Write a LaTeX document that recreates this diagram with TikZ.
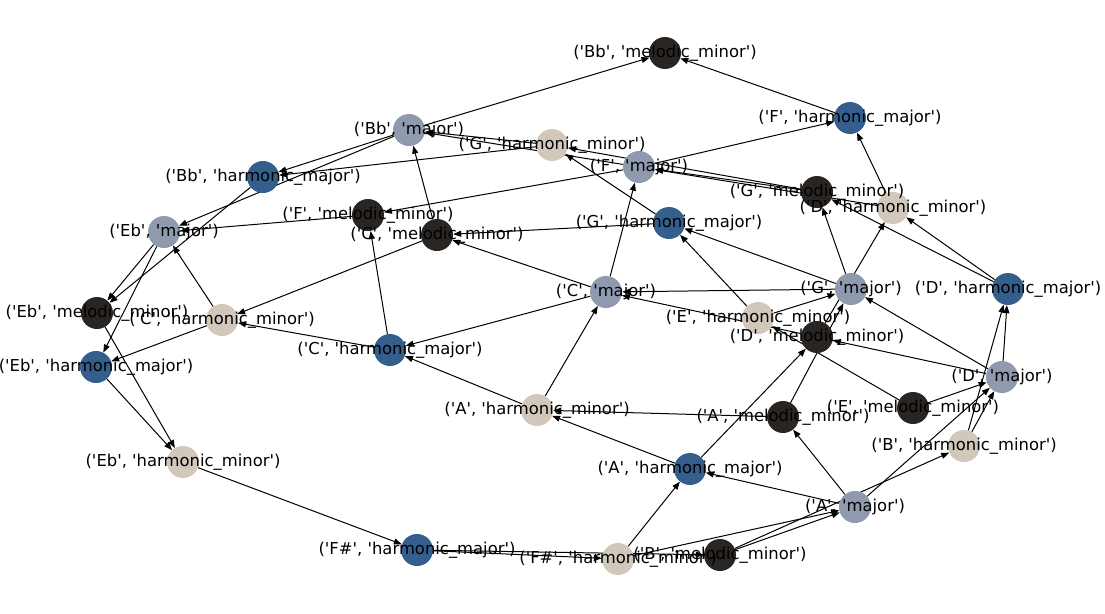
\documentclass[tikz,border=0pt]{standalone}
\usepackage{fontspec}
\newfontfamily\lblfont{DejaVu Sans}[Ligatures=TeXOff]
\usetikzlibrary{arrows.meta}
\definecolor{majcol}{HTML}{8F9AAF}
\definecolor{hmajcol}{HTML}{345E8C}
\definecolor{hmincol}{HTML}{D1C7BA}
\definecolor{melcol}{HTML}{292523}
\pgfdeclarelayer{background}
\pgfsetlayers{background,main}

\begin{document}
\begin{tikzpicture}[x=1pt, y=-1pt,
    maj/.style={circle, fill=majcol, minimum size=32pt, inner sep=0pt},
    hmaj/.style={circle, fill=hmajcol, minimum size=32pt, inner sep=0pt},
    hmin/.style={circle, fill=hmincol, minimum size=32pt, inner sep=0pt},
    mel/.style={circle, fill=melcol, minimum size=32pt, inner sep=0pt},
    lbl/.style={font=\lblfont\fontsize{16.4}{19}\selectfont, inner sep=0pt},
    arr/.style={-{Triangle[length=8pt,width=6pt]}, line width=1pt}]
    \useasboundingbox (0,0) rectangle (1105,613);

    % scales
    \node[mel]  (Bbmel)  at (665,53)  {};
    \node[hmaj] (Fhmaj)  at (850,118) {};
    \node[maj]  (Bbmaj)  at (409,130) {};
    \node[hmin] (Ghmin)  at (552,145) {};
    \node[maj]  (Fmaj)   at (639,167) {};
    \node[hmaj] (Bbhmaj) at (263,177) {};
    \node[mel]  (Gmel)   at (817,192) {};
    \node[hmin] (Dhmin)  at (893,208) {};
    \node[mel]  (Fmel)   at (368,215) {};
    \node[maj]  (Ebmaj)  at (164,232) {};
    \node[mel]  (Cmel)   at (437,235) {};
    \node[hmaj] (Ghmaj)  at (669,223) {};
    \node[maj]  (Cmaj)   at (606,292) {};
    \node[maj]  (Gmaj)   at (851,289) {};
    \node[hmaj] (Dhmaj)  at (1008,289) {};
    \node[mel]  (Ebmel)  at (97,313)  {};
    \node[hmin] (Chmin)  at (222,320) {};
    \node[hmin] (Ehmin)  at (758,318) {};
    \node[mel]  (Dmel)   at (817,337) {};
    \node[hmaj] (Chmaj)  at (390,350) {};
    \node[hmaj] (Ebhmaj) at (96,367)  {};
    \node[maj]  (Dmaj)   at (1002,377) {};
    \node[mel]  (Emel)   at (913,408) {};
    \node[hmin] (Ahmin)  at (537,410) {};
    \node[mel]  (Amel)   at (783,417) {};
    \node[hmin] (Bhmin)  at (964,446) {};
    \node[hmin] (Ebhmin) at (183,462) {};
    \node[hmaj] (Ahmaj)  at (690,469) {};
    \node[maj]  (Amaj)   at (855,507) {};
    \node[hmaj] (Fshmaj) at (417,550) {};
    \node[hmin] (Fshmin) at (618,559) {};
    \node[mel]  (Bmel)   at (720,555) {};

    % moves
    \begin{pgfonlayer}{background}
    \draw[arr] (Bbmaj) -- (Bbmel);
    \draw[arr] (Bbmaj) -- (Bbhmaj);
    \draw[arr] (Bbmaj) -- (Ebmaj);
    \draw[arr] (Fmaj) -- (Fhmaj);
    \draw[arr] (Fmaj) -- (Bbmaj);
    \draw[arr] (Fmaj) -- (Fmel);
    \draw[arr] (Cmaj) -- (Cmel);
    \draw[arr] (Cmaj) -- (Chmaj);
    \draw[arr] (Cmaj) -- (Fmaj);
    \draw[arr] (Gmaj) -- (Ghmaj);
    \draw[arr] (Gmaj) -- (Cmaj);
    \draw[arr] (Gmaj) -- (Gmel);
    \draw[arr] (Dmaj) -- (Gmaj);
    \draw[arr] (Dmaj) -- (Dmel);
    \draw[arr] (Dmaj) -- (Dhmaj);
    \draw[arr] (Amaj) -- (Amel);
    \draw[arr] (Amaj) -- (Ahmaj);
    \draw[arr] (Amaj) -- (Dmaj);
    \draw[arr] (Ebmaj) -- (Ebhmaj);
    \draw[arr] (Ebmaj) -- (Ebmel);
    \draw[arr] (Fhmaj) -- (Bbmel);
    \draw[arr] (Bbhmaj) -- (Ebmel);
    \draw[arr] (Ghmaj) -- (Cmel);
    \draw[arr] (Ghmaj) -- (Ghmin);
    \draw[arr] (Chmaj) -- (Chmin);
    \draw[arr] (Chmaj) -- (Fmel);
    \draw[arr] (Dhmaj) -- (Gmel);
    \draw[arr] (Dhmaj) -- (Dhmin);
    \draw[arr] (Ebhmaj) -- (Ebhmin);
    \draw[arr] (Ahmaj) -- (Ahmin);
    \draw[arr] (Ahmaj) -- (Dmel);
    \draw[arr] (Fshmaj) -- (Bmel);
    \draw[arr] (Fshmaj) -- (Fshmin);
    \draw[arr] (Ghmin) -- (Bbmaj);
    \draw[arr] (Ghmin) -- (Bbhmaj);
    \draw[arr] (Dhmin) -- (Fmaj);
    \draw[arr] (Dhmin) -- (Fhmaj);
    \draw[arr] (Chmin) -- (Ebhmaj);
    \draw[arr] (Chmin) -- (Ebmaj);
    \draw[arr] (Ehmin) -- (Gmaj);
    \draw[arr] (Ehmin) -- (Ghmaj);
    \draw[arr] (Ahmin) -- (Cmaj);
    \draw[arr] (Ahmin) -- (Chmaj);
    \draw[arr] (Bhmin) -- (Dmaj);
    \draw[arr] (Bhmin) -- (Dhmaj);
    \draw[arr] (Ebhmin) -- (Fshmaj);
    \draw[arr] (Fshmin) -- (Amaj);
    \draw[arr] (Fshmin) -- (Ahmaj);
    \draw[arr] (Gmel) -- (Ghmin);
    \draw[arr] (Gmel) -- (Fmaj);
    \draw[arr] (Fmel) -- (Ebmaj);
    \draw[arr] (Cmel) -- (Chmin);
    \draw[arr] (Cmel) -- (Bbmaj);
    \draw[arr] (Ebmel) -- (Ebhmin);
    \draw[arr] (Dmel) -- (Cmaj);
    \draw[arr] (Dmel) -- (Dhmin);
    \draw[arr] (Emel) -- (Ehmin);
    \draw[arr] (Emel) -- (Dmaj);
    \draw[arr] (Amel) -- (Ahmin);
    \draw[arr] (Amel) -- (Gmaj);
    \draw[arr] (Bmel) -- (Amaj);
    \draw[arr] (Bmel) -- (Bhmin);
    \end{pgfonlayer}

    % names
    \node[lbl] (Bbmel-t)  at (Bbmel)  {('Bb', 'melodic\_minor')};
    \node[lbl] (Fhmaj-t)  at (Fhmaj)  {('F', 'harmonic\_major')};
    \node[lbl] (Bbmaj-t)  at (Bbmaj)  {('Bb', 'major')};
    \node[lbl] (Ghmin-t)  at (Ghmin)  {('G', 'harmonic\_minor')};
    \node[lbl] (Fmaj-t)   at (Fmaj)   {('F', 'major')};
    \node[lbl] (Bbhmaj-t) at (Bbhmaj) {('Bb', 'harmonic\_major')};
    \node[lbl] (Gmel-t)   at (Gmel)   {('G', 'melodic\_minor')};
    \node[lbl] (Dhmin-t)  at (Dhmin)  {('D', 'harmonic\_minor')};
    \node[lbl] (Fmel-t)   at (Fmel)   {('F', 'melodic\_minor')};
    \node[lbl] (Ebmaj-t)  at (Ebmaj)  {('Eb', 'major')};
    \node[lbl] (Cmel-t)   at (Cmel)   {('C', 'melodic\_minor')};
    \node[lbl] (Ghmaj-t)  at (Ghmaj)  {('G', 'harmonic\_major')};
    \node[lbl] (Cmaj-t)   at (Cmaj)   {('C', 'major')};
    \node[lbl] (Gmaj-t)   at (Gmaj)   {('G', 'major')};
    \node[lbl] (Dhmaj-t)  at (Dhmaj)  {('D', 'harmonic\_major')};
    \node[lbl] (Ebmel-t)  at (Ebmel)  {('Eb', 'melodic\_minor')};
    \node[lbl] (Chmin-t)  at (Chmin)  {('C', 'harmonic\_minor')};
    \node[lbl] (Ehmin-t)  at (Ehmin)  {('E', 'harmonic\_minor')};
    \node[lbl] (Dmel-t)   at (Dmel)   {('D', 'melodic\_minor')};
    \node[lbl] (Chmaj-t)  at (Chmaj)  {('C', 'harmonic\_major')};
    \node[lbl] (Ebhmaj-t) at (Ebhmaj) {('Eb', 'harmonic\_major')};
    \node[lbl] (Dmaj-t)   at (Dmaj)   {('D', 'major')};
    \node[lbl] (Emel-t)   at (Emel)   {('E', 'melodic\_minor')};
    \node[lbl] (Ahmin-t)  at (Ahmin)  {('A', 'harmonic\_minor')};
    \node[lbl] (Amel-t)   at (Amel)   {('A', 'melodic\_minor')};
    \node[lbl] (Bhmin-t)  at (Bhmin)  {('B', 'harmonic\_minor')};
    \node[lbl] (Ebhmin-t) at (Ebhmin) {('Eb', 'harmonic\_minor')};
    \node[lbl] (Ahmaj-t)  at (Ahmaj)  {('A', 'harmonic\_major')};
    \node[lbl] (Amaj-t)   at (Amaj)   {('A', 'major')};
    \node[lbl] (Fshmaj-t) at (Fshmaj) {('F\#', 'harmonic\_major')};
    \node[lbl] (Fshmin-t) at (Fshmin) {('F\#', 'harmonic\_minor')};
    \node[lbl] (Bmel-t)   at (Bmel)   {('B', 'melodic\_minor')};
\end{tikzpicture}
\end{document}
